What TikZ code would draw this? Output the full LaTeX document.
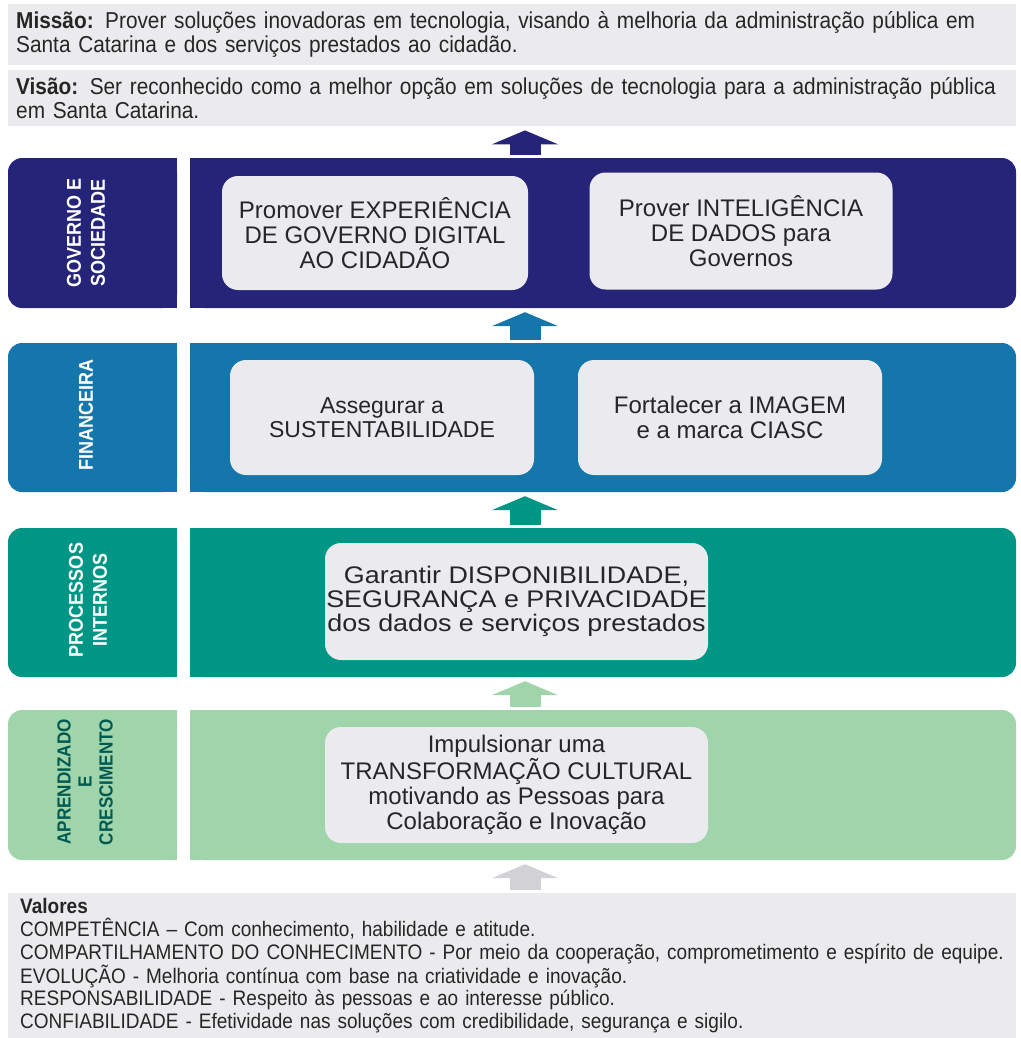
\documentclass[tikz,border=0pt]{standalone}
\usepackage{fontspec}
\setmainfont{Liberation Sans}
\newfontfamily\estreita[FakeStretch=0.905]{Liberation Sans}
\newfontfamily\rotfont[FakeStretch=0.9]{Liberation Sans}
\newfontfamily\larga[FakeStretch=1.12]{Liberation Sans}
\usepackage{tikz}
\usetikzlibrary{arrows.meta}
\usetikzlibrary{positioning}

\definecolor{marinho}{RGB}{37,36,120}
\definecolor{azul}{RGB}{21,118,172}
\definecolor{verdeesc}{RGB}{0,150,134}
\definecolor{verdecla}{RGB}{160,212,170}
\definecolor{cinzaseta}{RGB}{210,210,214}
\definecolor{painelc}{RGB}{235,235,238}
\definecolor{caixac}{RGB}{234,234,239}
\definecolor{textoc}{RGB}{38,38,38}

\tikzset{>=latex}
\tikzset{
  painel/.style = {rectangle, fill=painelc, anchor=north west, minimum width=1008pt,
    text width=992pt, inner xsep=4pt, inner ysep=0pt, align=left, text=textoc,
    font=\estreita\fontsize{23}{24}\selectfont},
  faixa/.style = {rectangle, rounded corners=14pt, minimum width=826pt, minimum height=150pt, inner sep=0pt},
  rotulo/.style = {rotate=90, align=center, text=white, font=\rotfont\bfseries\fontsize{20}{24}\selectfont},
  caixa/.style = {rectangle, rounded corners=16pt, fill=caixac, align=center, text=textoc, inner sep=0pt,
    font=\fontsize{24}{25}\selectfont},
  seta/.style = {line width=31pt, -{Triangle[width=66pt,length=14pt]}, shorten <=3pt, shorten >=4pt}
}

\begin{document}
\begin{tikzpicture}[x=1pt, y=-1pt]
\useasboundingbox (0,0) rectangle (1020,1038);
\coordinate (eixo) at (525,0);

% missao e visao
\node [painel, minimum height=61pt] (missao) at (8,4) {\textbf{Missão:} Prover soluções inovadoras em tecnologia, visando à melhoria da administração pública em\\Santa Catarina e dos serviços prestados ao cidadão.};
\node [painel, minimum height=56pt] (visao) at (8,70) {\textbf{Visão:} Ser reconhecido como a melhor opção em soluções de tecnologia para a administração pública\\em Santa Catarina.};

% governo e sociedade
\fill [marinho, rounded corners=14pt] (8,158) rectangle (177,308);
\fill [marinho] (120,158) rectangle (177,308);
\node [rotulo] (govlbl) at (86,233) {GOVERNO E\\SOCIEDADE};
\node [faixa, fill=marinho] (govband) at (603,233) {};
\fill [marinho] (govband.north west) rectangle ([xshift=100pt]govband.south west);
\node [caixa, minimum width=306pt, minimum height=114pt] (expdig) at (375,233) {Promover EXPERIÊNCIA\\DE GOVERNO DIGITAL\\AO CIDADÃO};
\node [caixa, minimum width=303pt, minimum height=117pt] (intdados) at (741,231) {Prover INTELIGÊNCIA\\DE DADOS para\\Governos};

% financeira
\fill [azul, rounded corners=14pt] (8,343) rectangle (177,492);
\fill [azul] (120,343) rectangle (177,492);
\node [rotulo] (finlbl) at (86,415) {FINANCEIRA};
\node [faixa, fill=azul, minimum height=149pt] (finband) at (603,417.5) {};
\fill [azul] (finband.north west) rectangle ([xshift=100pt]finband.south west);
\node [caixa, minimum width=304pt, minimum height=115pt, font=\fontsize{23}{24}\selectfont] (sust) at (382,417.5) {Assegurar a\\SUSTENTABILIDADE};
\node [caixa, minimum width=304pt, minimum height=115pt] (imagem) at (730,417.5) {Fortalecer a IMAGEM\\e a marca CIASC};

% processos internos
\fill [verdeesc, rounded corners=14pt] (8,528) rectangle (177,677);
\fill [verdeesc] (120,528) rectangle (177,677);
\node [rotulo] (proclbl) at (88,600) {PROCESSOS\\INTERNOS};
\node [faixa, fill=verdeesc, minimum height=149pt] (procband) at (603,602.5) {};
\fill [verdeesc] (procband.north west) rectangle ([xshift=100pt]procband.south west);
\node [caixa, minimum width=383pt, minimum height=117pt, font=\larga\fontsize{24}{24}\selectfont] (dispon) at (516.5,601.5) {Garantir DISPONIBILIDADE,\\SEGURANÇA e PRIVACIDADE\\dos dados e serviços prestados};

% aprendizado e crescimento
\fill [verdecla, rounded corners=14pt] (8,710) rectangle (177,860);
\fill [verdecla] (120,710) rectangle (177,860);
\node [rotulo, text=verdeesc!60!black, font=\rotfont\bfseries\fontsize{19}{21}\selectfont] (aprlbl) at (85,782) {APRENDIZADO\\E\\CRESCIMENTO};
\node [faixa, fill=verdecla] (aprband) at (603,785) {};
\fill [verdecla] (aprband.north west) rectangle ([xshift=100pt]aprband.south west);
\node [caixa, minimum width=383pt, minimum height=116pt] (transf) at (516.5,785) {Impulsionar uma\\TRANSFORMAÇÃO CULTURAL\\motivando as Pessoas para\\Colaboração e Inovação};

% valores
\node [painel, minimum height=145pt, inner xsep=12pt, text width=984pt, font=\estreita\fontsize{21}{22.6}\selectfont] (valores) at (8,893) {{\bfseries Valores}\\
COMPETÊNCIA – Com conhecimento, habilidade e atitude.\\
COMPARTILHAMENTO DO CONHECIMENTO - Por meio da cooperação, comprometimento e espírito de equipe.\\
EVOLUÇÃO - Melhoria contínua com base na criatividade e inovação.\\
RESPONSABILIDADE - Respeito às pessoas e ao interesse público.\\
CONFIABILIDADE - Efetividade nas soluções com credibilidade, segurança e sigilo.};

% setas
\draw [seta, marinho] (govband.north -| eixo) -- (visao.south -| eixo);
\draw [seta, azul] (finband.north -| eixo) -- (govband.south -| eixo);
\draw [seta, verdeesc] (procband.north -| eixo) -- (finband.south -| eixo);
\draw [seta, verdecla] (aprband.north -| eixo) -- (procband.south -| eixo);
\draw [seta, cinzaseta] (valores.north -| eixo) -- (aprband.south -| eixo);
\end{tikzpicture}
\end{document}
